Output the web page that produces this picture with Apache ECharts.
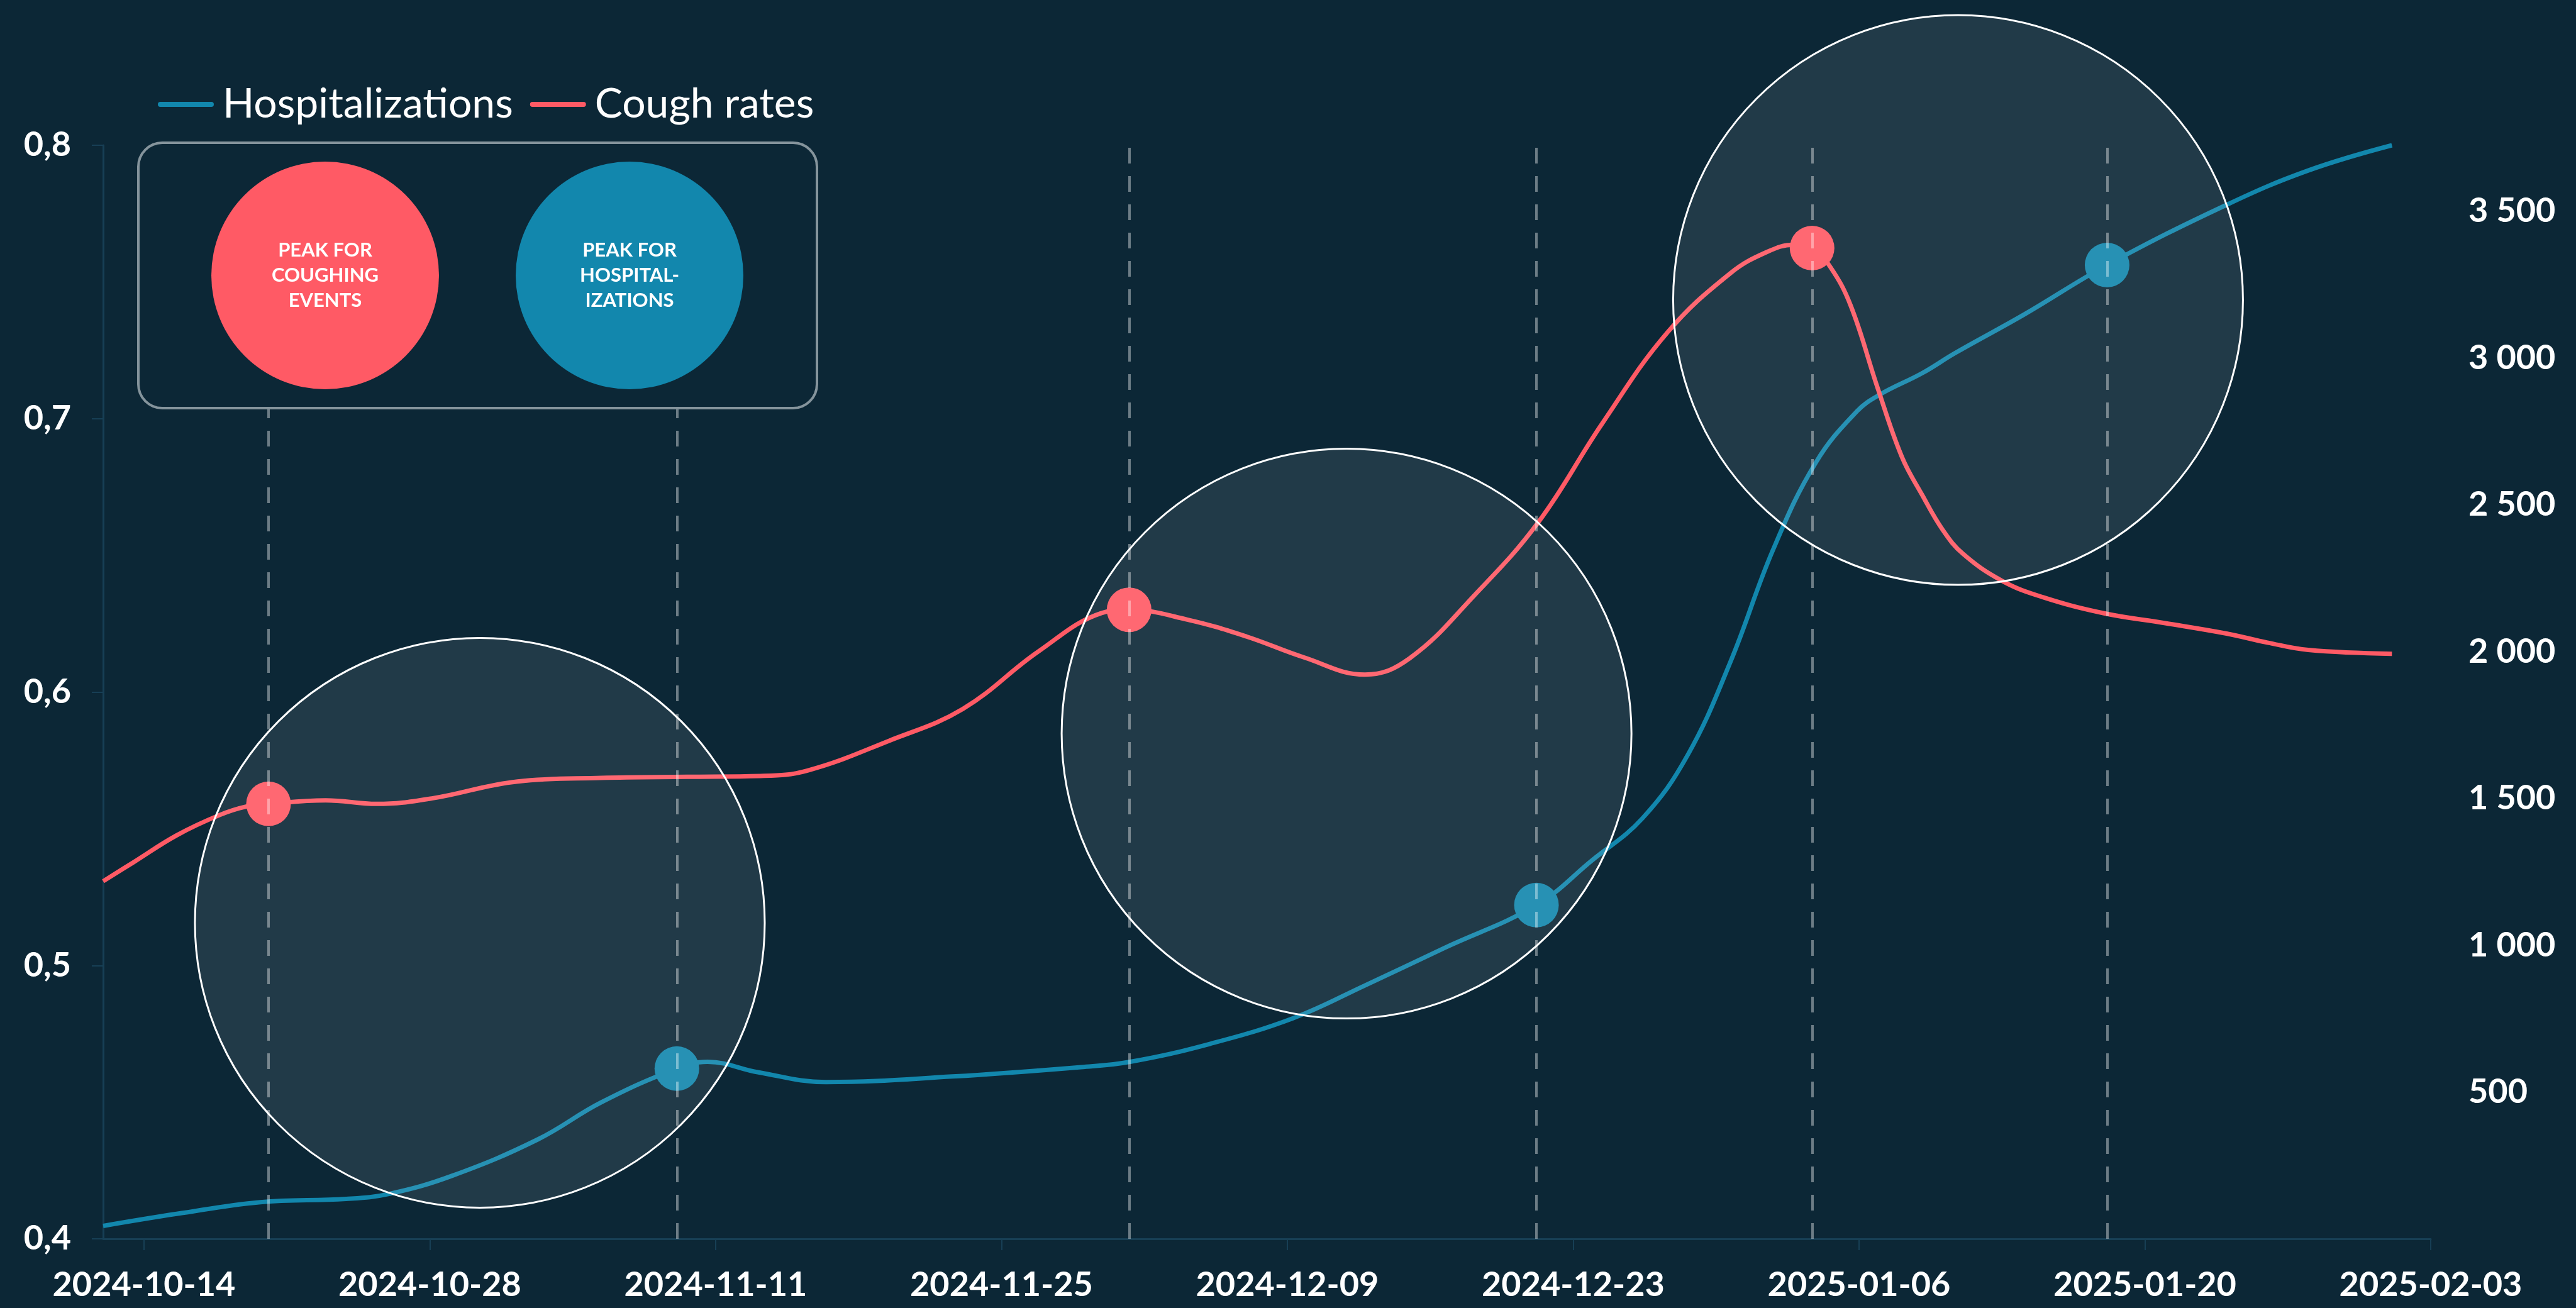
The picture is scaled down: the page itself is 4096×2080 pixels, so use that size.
<!DOCTYPE html>
<html>
<head>
<meta charset="utf-8">
<script src="https://cdn.jsdelivr.net/npm/echarts@6/dist/echarts.min.js"></script>
<style>
  html, body { margin: 0; padding: 0; background: #0c2736; }
  #chart { width: 4096px; height: 2080px; }
</style>
</head>
<body>
<div id="chart"></div>
<script>
// x values are days counted from 2024-10-12
const startDate = Date.UTC(2024, 9, 12)
const xTickDays = [2, 16, 30, 44, 58, 72, 86, 100, 114]

// Cough rates (left axis)
const coughDays = [0, 1.5, 3.6, 5.7, 7.0, 8.1, 10.9, 13.4, 16.1, 20.3, 24.4, 28.6, 32.2, 34.5, 38.5, 42.1, 45.8, 48.9, 50.25,
  53.1, 56.0, 58.8, 61.8, 64.0, 67.2, 70.3, 73.4, 76.6, 79.7, 81.5, 82.8, 83.7, 84.6, 85.6, 86.9, 88.1, 89.1, 90.1, 91.1,
  93.0, 95.0, 98.0, 101.0, 104.0, 106.0, 108.0, 112.1]
const coughValues = [0.5308, 0.5378, 0.5476, 0.555, 0.5581, 0.5591, 0.5604, 0.5591, 0.5611, 0.5673, 0.5686, 0.569, 0.5693, 0.5713, 0.5822, 0.5938, 0.6148, 0.6289, 0.6301,
  0.6265, 0.6203, 0.6127, 0.6064, 0.6124, 0.6357, 0.6622, 0.698, 0.7314, 0.7532, 0.761, 0.7636, 0.7624, 0.7554, 0.7412, 0.7115, 0.686, 0.672, 0.6593, 0.6505,
  0.6407, 0.6347, 0.6288, 0.6252, 0.6214, 0.6181, 0.6154, 0.614]
const coughPeakDays = [8.1, 50.25, 83.7]

// Hospitalizations (right axis)
const hospDays = [0, 3.6, 7.7, 11.9, 14.0, 17.1, 21.3, 24.4, 28.1, 29.6, 32.1, 35.4, 41.6, 47.9, 50.3, 54.2, 58.3, 61.8,
  65.7, 70.2, 72.9, 75.4, 77.6, 79.7, 81.8, 83.9, 85.9, 87.0, 89.1, 90.7, 94.1, 98.15, 104.0, 108.0, 112.1]
const hospValues = [44, 85, 125, 136, 153, 215, 339, 465, 580, 603, 567, 534, 553, 585, 603, 664, 752, 863,
  991, 1137, 1288, 1433, 1647, 1965, 2349, 2646, 2819, 2875, 2949, 3017, 3149, 3317, 3522, 3639, 3725]
const hospPeakDays = [28.1, 70.2, 98.15]

// highlight rings, centre in (day, cough rate)
const ringCenters = [[18.45, 0.5156], [60.9, 0.5848], [90.85, 0.7434]]

const RED = '#ff5a65'
const BLUE = '#1287ad'
const BG = '#0c2736'
const AXIS = '#173f55'

const toDate = d => new Date(startDate + Math.round(d) * 86400000).toISOString().slice(0, 10)
const spaced = v => String(v).replace(/\B(?=(\d{3})+(?!\d))/g, ' ')

const buildData = (days, values, peaks) => days.map((d, i) => ({
  value: [d, values[i]],
  symbol: peaks.includes(d) ? 'circle' : 'none'
}))

const dashLine = peaks => ({
  silent: true,
  symbol: ['none', 'none'],
  label: { show: false },
  lineStyle: { color: 'rgba(255,255,255,0.4)', type: [25, 20], width: 4 },
  emphasis: { disabled: true },
  data: peaks.map(d => ({ xAxis: d }))
})

const labelFont = { color: '#ffffff', fontFamily: 'Lato', fontWeight: 'bold', fontSize: 54 }

const chart = echarts.init(document.getElementById('chart'))
chart.setOption({
  backgroundColor: BG,
  animation: false,
  legend: {
    data: ['Hospitalizations', 'Cough rates'],
    left: 246,
    top: 128,
    itemWidth: 89,
    itemHeight: 8,
    itemGap: 27,
    icon: 'path://M4,0 H86 A4,4 0 0 1 86,8 H4 A4,4 0 0 1 4,0 Z',
    textStyle: { color: '#ffffff', fontFamily: 'Lato', fontSize: 66, padding: [0, 0, 0, 9] }
  },
  grid: { left: 164, right: 231, top: 231, bottom: 110 },
  xAxis: {
    type: 'value',
    min: 0,
    max: 114,
    splitLine: { show: false },
    axisLine: { lineStyle: { color: AXIS, width: 3 } },
    axisTick: { customValues: xTickDays, length: 18, lineStyle: { color: AXIS, width: 2 } },
    axisLabel: Object.assign({ customValues: xTickDays, margin: 47, formatter: toDate }, labelFont)
  },
  yAxis: [{
    type: 'value',
    min: 0.4,
    max: 0.8,
    interval: 0.1,
    position: 'left',
    splitLine: { show: false },
    axisLine: { show: true, lineStyle: { color: AXIS, width: 3 } },
    axisTick: { show: true, length: 18, lineStyle: { color: AXIS, width: 2 } },
    axisLabel: Object.assign({ margin: 51, formatter: v => v.toFixed(1).replace('.', ',') }, labelFont)
  }, {
    type: 'value',
    min: 0,
    max: 'dataMax',
    interval: 500,
    position: 'right',
    splitLine: { show: false },
    axisLine: { show: false },
    axisTick: { show: false },
    axisLabel: Object.assign({ margin: 60, showMinLabel: false, showMaxLabel: false, formatter: spaced }, labelFont)
  }],
  series: [{
    name: 'Hospitalizations',
    type: 'line',
    yAxisIndex: 1,
    smooth: 0.4,
    symbol: 'none',
    symbolSize: 71,
    color: BLUE,
    lineStyle: { width: 7, color: BLUE },
    itemStyle: { color: BLUE },
    data: buildData(hospDays, hospValues, hospPeakDays),
    markLine: dashLine(hospPeakDays)
  }, {
    name: 'Cough rates',
    type: 'line',
    yAxisIndex: 0,
    smooth: 0.4,
    symbol: 'none',
    symbolSize: 71,
    color: RED,
    lineStyle: { width: 7, color: RED },
    itemStyle: { color: RED },
    data: buildData(coughDays, coughValues, coughPeakDays),
    markLine: dashLine(coughPeakDays)
  }]
})

// rings over the peak pairs, plus the key box
const rings = ringCenters.map(c => {
  const p = chart.convertToPixel({ xAxisIndex: 0, yAxisIndex: 0 }, c)
  return {
    type: 'circle',
    z: 90,
    silent: true,
    shape: { cx: p[0], cy: p[1], r: 453 },
    style: { fill: 'rgba(255,255,255,0.09)', stroke: '#ffffff', lineWidth: 3 }
  }
})

const keyText = (x, text) => ({
  type: 'text',
  z: 102,
  silent: true,
  x: x,
  y: 438,
  style: {
    text: text,
    fill: '#ffffff',
    font: 'bold 31px Lato',
    align: 'center',
    verticalAlign: 'middle',
    lineHeight: 40
  }
})

chart.setOption({
  graphic: rings.concat([
    {
      type: 'rect',
      z: 100,
      silent: true,
      shape: { x: 220, y: 227, width: 1079, height: 422, r: 38 },
      style: { fill: BG, stroke: '#85949c', lineWidth: 4 }
    },
    { type: 'circle', z: 101, silent: true, shape: { cx: 517, cy: 438, r: 181 }, style: { fill: RED } },
    { type: 'circle', z: 101, silent: true, shape: { cx: 1001, cy: 438, r: 181 }, style: { fill: BLUE } },
    keyText(517, 'PEAK FOR\nCOUGHING\nEVENTS'),
    keyText(1001, 'PEAK FOR\nHOSPITAL-\nIZATIONS')
  ])
})
</script>
</body>
</html>
